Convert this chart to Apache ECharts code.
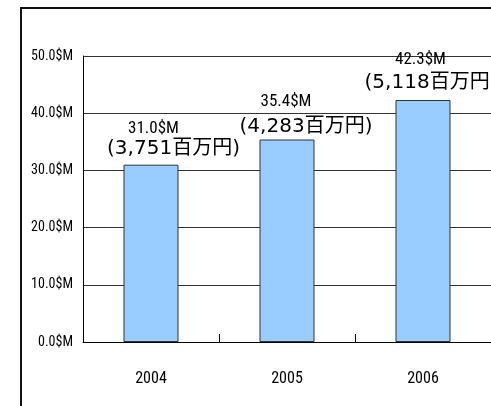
<!DOCTYPE html>
<html>
<head>
<meta charset="utf-8">
<script src="https://cdn.jsdelivr.net/npm/echarts@6/dist/echarts.min.js"></script>
<style>
  html, body { margin: 0; padding: 0; background: #fff; }
  #chart { width: 491px; height: 406px; }
</style>
</head>
<body>
<div id="chart"></div>
<script>
// Annual sales, in millions of US dollars, with the yen equivalent
const years = ['2004', '2005', '2006'];
const usdMillions = [31.0, 35.4, 42.3];
const yenMillions = ['3,751', '4,283', '5,118'];
const yTickLabels = ['0.0$M', '10.0$M', '20.0$M', '30.0$M', '40.0$M', '50.0$M'];

const narrow = "'Liberation Sans Narrow', 'Arial Narrow', 'Roboto Condensed', 'DejaVu Sans Condensed', sans-serif";
const wide = "'DejaVu Sans', 'Noto Sans CJK JP', sans-serif";

// hand-placed label nudges for each bar (dx, lift, yen-line shift, line gap)
const labelNudge = [
  { dx: 2.5, lift: 5.2, shift: 20, gap: 20 },
  { dx: -1, lift: 1.5, shift: 20, gap: 25 },
  { dx: -2.5, lift: 6.5, shift: 10.5, gap: 23 }
];

const barData = usdMillions.map((v, i) => {
  const n = labelNudge[i];
  return {
    value: v,
    label: {
      offset: [n.dx, -n.lift],
      rich: {
        a: { fontFamily: narrow, fontSize: 17, color: '#000', lineHeight: 2 * n.gap - 22 },
        b: { fontFamily: wide, fontSize: 20, color: '#000', lineHeight: 22, padding: [0, 0, 0, 2 * n.shift] }
      }
    }
  };
});

const chart = echarts.init(document.getElementById('chart'), null, { renderer: 'canvas' });
chart.setOption({
  animation: false,
  backgroundColor: '#fff',
  graphic: [{
    type: 'rect',
    shape: { x: 21, y: 8, width: 1000, height: 1000 },
    style: { fill: 'none', stroke: '#111', lineWidth: 2 },
    silent: true,
    z: 100
  }],
  grid: { left: 83, top: 56, right: -8, bottom: 64, containLabel: false },
  xAxis: {
    type: 'category',
    data: years,
    axisLine: { lineStyle: { color: '#000', width: 1 } },
    axisTick: { show: true, inside: true, length: 8, lineStyle: { color: '#000' } },
    axisLabel: { fontFamily: narrow, fontSize: 16, color: '#000', margin: 29 },
    splitLine: { show: false }
  },
  yAxis: {
    type: 'value',
    min: 0,
    max: 50,
    interval: 10,
    axisLine: { show: true, lineStyle: { color: '#000', width: 1 } },
    axisTick: { show: false },
    axisLabel: {
      fontFamily: narrow, fontSize: 14, color: '#000', margin: 10,
      padding: [4, 0, 0, 0],
      formatter: (v) => yTickLabels[Math.round(v / 10)]
    },
    splitLine: { show: true, lineStyle: { color: '#333', width: 1 } }
  },
  series: [{
    type: 'bar',
    data: barData,
    barWidth: 55,
    itemStyle: { color: '#99CCFF', borderColor: '#333', borderWidth: 1 },
    label: {
      show: true,
      position: 'top',
      distance: 0,
      align: 'center',
      formatter: (p) => `{a|${p.value.toFixed(1)}$M}\n{b|(${yenMillions[p.dataIndex]}百万円)}`
    }
  }]
});
</script>
</body>
</html>
